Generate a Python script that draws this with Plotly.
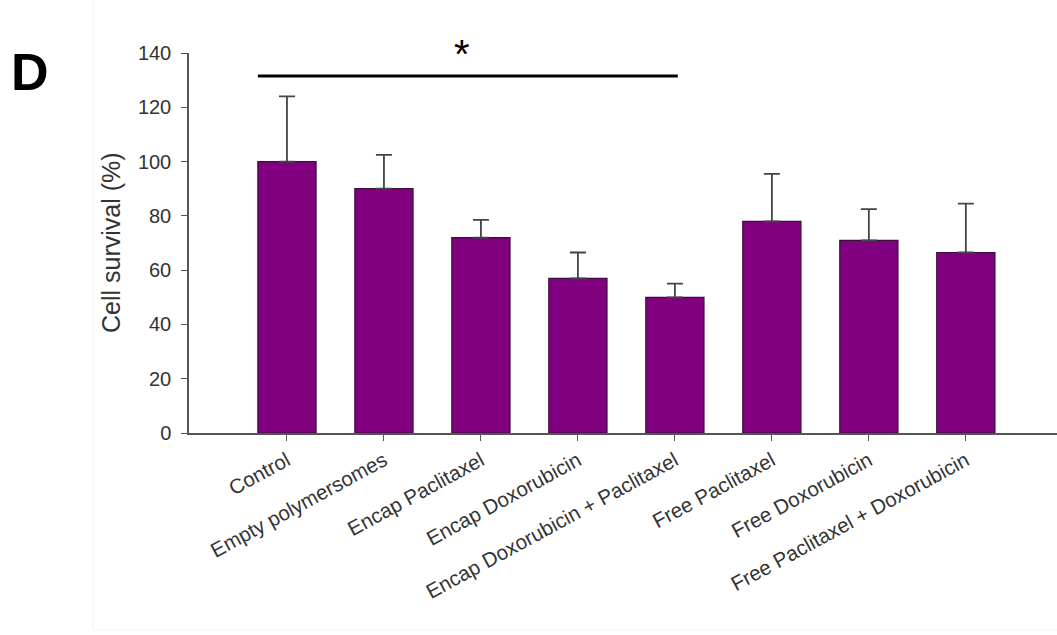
import plotly.graph_objects as go

categories = [
    "Control",
    "Empty polymersomes",
    "Encap Paclitaxel",
    "Encap Doxorubicin",
    "Encap Doxorubicin + Paclitaxel",
    "Free Paclitaxel",
    "Free Doxorubicin",
    "Free Paclitaxel + Doxorubicin",
]
survival = [100, 90, 72, 57, 50, 78, 71, 66.5]
error_up = [24, 12.5, 6.5, 9.5, 5, 17.5, 11.5, 18]
y_ticks = [0, 20, 40, 60, 80, 100, 120, 140]

# significance bracket: spans from the Control bar to the combined encapsulated group
sig_start, sig_end, sig_level = -0.3, 4.03, 131.5

W, H = 1057, 635
L, T, B = 189, 53, 202
plot_w, plot_h = W - L, H - T - B
font_family = "Arial, Liberation Sans, sans-serif"
positions = list(range(len(categories)))


def px_x(px):
    return (px - L) / plot_w


def px_y(px):
    return (H - B - px) / plot_h


fig = go.Figure()
fig.add_trace(go.Bar(
    x=positions,
    y=survival,
    width=0.6,
    marker=dict(color="#800080", line=dict(color="#3a0f3a", width=1.2)),
    error_y=dict(
        type="data", array=error_up, arrayminus=[0] * len(error_up),
        symmetric=False, color="#444444", thickness=1.8, width=8,
    ),
    showlegend=False,
))

fig.add_shape(
    type="line", xref="x", yref="y",
    x0=sig_start, x1=sig_end, y0=sig_level, y1=sig_level,
    line=dict(color="black", width=3),
)
# faint panel frame edges
fig.add_shape(
    type="line", xref="paper", yref="paper",
    x0=px_x(93), x1=px_x(93), y0=px_y(0), y1=px_y(630),
    line=dict(color="#f1f1f1", width=1),
)
fig.add_shape(
    type="line", xref="paper", yref="paper",
    x0=px_x(93), x1=px_x(W), y0=px_y(630), y1=px_y(630),
    line=dict(color="#f1f1f1", width=1),
)
fig.add_annotation(
    x=px_x(462), y=px_y(54), xref="paper", yref="paper",
    text="*", showarrow=False, xanchor="center", yanchor="middle",
    font=dict(size=40, color="black", family=font_family),
)
fig.add_annotation(
    x=px_x(9), y=px_y(72), xref="paper", yref="paper",
    text="<b>D</b>", showarrow=False, xanchor="left", yanchor="middle",
    font=dict(size=52, color="black", family=font_family),
)
fig.add_annotation(
    x=px_x(111), y=px_y(243), xref="paper", yref="paper",
    text="Cell survival (%)", textangle=-90, showarrow=False,
    xanchor="center", yanchor="middle",
    font=dict(size=25, color="#333333", family=font_family),
)

fig.update_layout(
    width=W, height=H,
    margin=dict(l=L, r=0, t=T, b=B),
    paper_bgcolor="white", plot_bgcolor="white",
    font=dict(family=font_family, color="#333333"),
    bargap=0.4,
)
fig.update_xaxes(
    range=[-1.01, 7.94],
    tickmode="array", tickvals=positions, ticktext=categories,
    tickangle=-28.5, tickfont=dict(size=20.5, color="#333333"),
    showline=True, linecolor="#555555", linewidth=1.5,
    ticks="outside", ticklen=6, tickcolor="#555555",
    showgrid=False, zeroline=False,
)
fig.update_yaxes(
    range=[0, 140],
    tickmode="array", tickvals=y_ticks,
    tickfont=dict(size=20, color="#333333"),
    ticklabelstandoff=6,
    showline=True, linecolor="#555555", linewidth=1.5,
    ticks="outside", ticklen=6, tickcolor="#555555",
    showgrid=False, zeroline=False,
)

fig.write_html("out.html")
